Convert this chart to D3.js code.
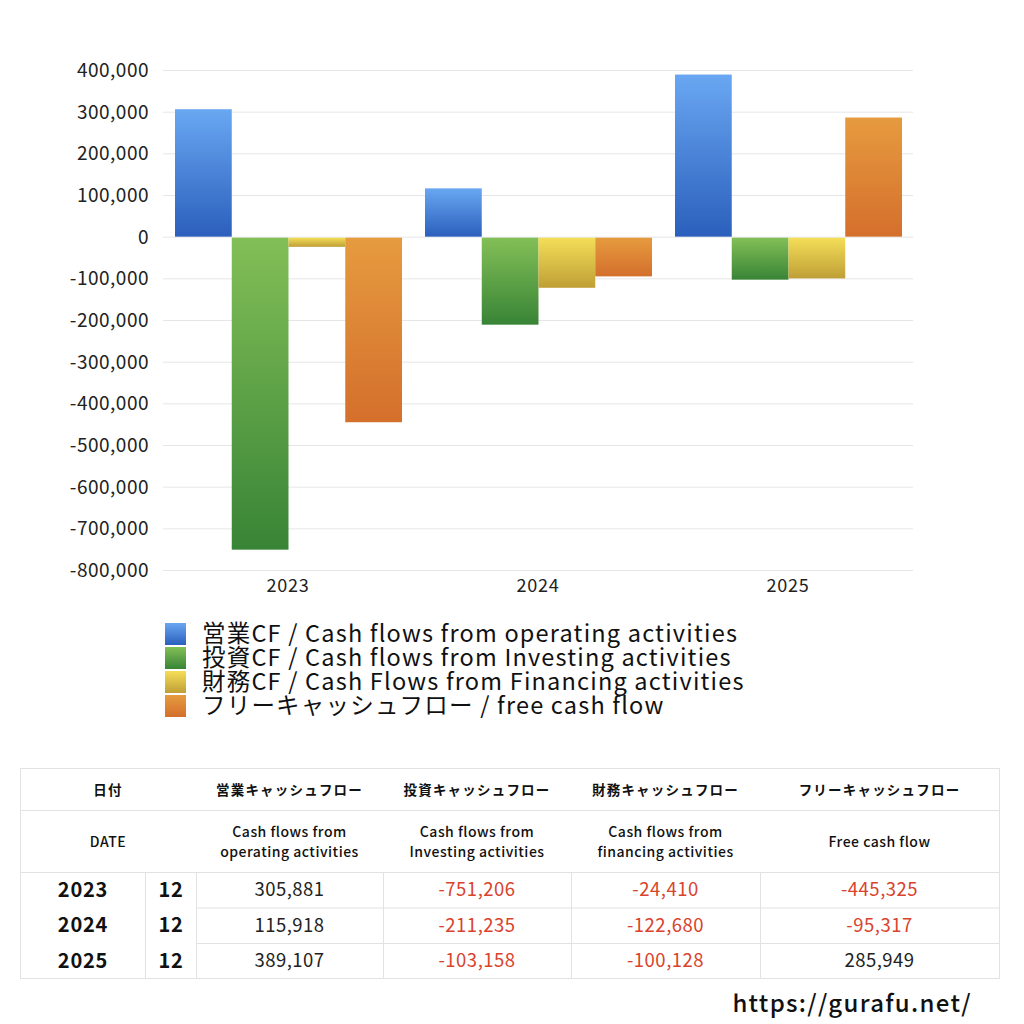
<!DOCTYPE html>
<html><head><meta charset="utf-8">
<script src="https://cdn.jsdelivr.net/npm/d3@7/dist/d3.min.js"></script>
<style>
html,body{margin:0;padding:0;background:#fff;}
svg{display:block;}
</style></head>
<body>
<svg id="chart" width="1024" height="1024"></svg>
<script>
const years = ["2023", "2024", "2025"];
const months = ["12", "12", "12"];
const seriesKeys = ["op", "inv", "fin", "free"];
const legendLabels = [
  "営業CF / Cash flows from operating activities",
  "投資CF / Cash flows from Investing activities",
  "財務CF / Cash Flows from Financing activities",
  "フリーキャッシュフロー / free cash flow"
];
const operating = [305881, 115918, 389107];
const investing = [-751206, -211235, -103158];
const financing = [-24410, -122680, -100128];
const freeCF = [-445325, -95317, 285949];
const yTicks = [400000, 300000, 200000, 100000, 0, -100000, -200000, -300000, -400000, -500000, -600000, -700000, -800000];
const tableHead1 = ["日付", "営業キャッシュフロー", "投資キャッシュフロー", "財務キャッシュフロー", "フリーキャッシュフロー"];
const tableHead2 = ["DATE", "Cash flows from\noperating activities", "Cash flows from\nInvesting activities", "Cash flows from\nfinancing activities", "Free cash flow"];
const colorStops = [["#69a7f2", "#2b5fbc"], ["#83bf57", "#388436"], ["#f4de58", "#bf9f36"], ["#e69b3f", "#d46f2c"]];

const seriesValues = [operating, investing, financing, freeCF];
const FONT = "'Noto Sans CJK JP', 'Noto Sans', sans-serif";
const svg = d3.select("#chart");
const defs = svg.append("defs");
colorStops.forEach((c, i) => {
  const g = defs.append("linearGradient").attr("id", "g" + i)
    .attr("x1", 0).attr("y1", 0).attr("x2", 0).attr("y2", 1);
  g.append("stop").attr("offset", "0%").attr("stop-color", c[0]);
  g.append("stop").attr("offset", "100%").attr("stop-color", c[1]);
});

const x0 = d3.scaleBand().domain(years).range([163, 913]).paddingInner(0).paddingOuter(0);
const x1 = d3.scaleBand().domain(seriesKeys).range([12, x0.bandwidth() - 11]).padding(0);
const y = d3.scaleLinear().domain([-800000, 400000]).range([570, 70]);

// gridlines
svg.append("g").selectAll("line").data(yTicks).join("line")
  .attr("x1", 163).attr("x2", 913)
  .attr("y1", d => y(d) + 0.5).attr("y2", d => y(d) + 0.5)
  .attr("stroke", "#e6e6e6").attr("stroke-width", 1);

// y axis
const yAxis = d3.axisLeft(y).tickValues(yTicks).tickSize(0).tickPadding(0)
  .tickFormat(d => d3.format(",")(d).replace("−", "-"));
const ga = svg.append("g").attr("transform", "translate(149,0)").call(yAxis);
ga.select(".domain").remove();
ga.selectAll("text").attr("font-family", FONT).attr("font-size", 19).attr("letter-spacing", 0.5)
  .attr("fill", "#222").attr("dy", "0.35em");

// x axis
const xAxis = d3.axisBottom(x0).tickSize(0).tickPadding(0);
const gx = svg.append("g").attr("transform", "translate(0,586)").call(xAxis);
gx.select(".domain").remove();
gx.selectAll("text").attr("font-family", FONT).attr("font-size", 18).attr("letter-spacing", 0.8)
  .attr("fill", "#222").attr("dy", "0.35em");

// bars
const groups = svg.append("g").selectAll("g").data(years).join("g")
  .attr("transform", d => `translate(${x0(d)},0)`);
groups.selectAll("rect").data((d, yi) => seriesKeys.map((k, si) => ({k, si, v: seriesValues[si][yi]})))
  .join("rect")
  .attr("x", d => x1(d.k)).attr("width", x1.bandwidth())
  .attr("y", d => d.v >= 0 ? y(d.v) : y(0) + 1)
  .attr("height", d => d.v >= 0 ? y(0) - y(d.v) : y(d.v) - y(0) - 1)
  .attr("fill", d => `url(#g${d.si})`);

// legend
const lg = svg.append("g").selectAll("g").data(legendLabels).join("g")
  .attr("transform", (d, i) => `translate(165,${623 + i * 24})`);
lg.append("rect").attr("width", 21).attr("height", 22).attr("fill", (d, i) => `url(#g${i})`);
lg.append("text").attr("x", 37).attr("y", 11).attr("dy", "0.36em")
  .attr("font-family", FONT).attr("font-size", 23.5).attr("letter-spacing", 1.2)
  .attr("fill", "#111").text(d => d);

// table
const colX = [20, 145, 196, 383, 571, 760, 999];
const rowY = [768, 810, 872, 907.5, 943, 978];
const tb = svg.append("g");
const border = "#e2e2e2";
tb.append("rect").attr("x", colX[0] + 0.5).attr("y", rowY[0] + 0.5)
  .attr("width", colX[6] - colX[0]).attr("height", rowY[5] - rowY[0])
  .attr("fill", "none").attr("stroke", border);
[rowY[1], rowY[2]].forEach(yy => tb.append("line").attr("x1", colX[0]).attr("x2", colX[6])
  .attr("y1", yy + 0.5).attr("y2", yy + 0.5).attr("stroke", border));
[rowY[3], rowY[4]].forEach(yy => tb.append("line").attr("x1", colX[2]).attr("x2", colX[6])
  .attr("y1", yy + 0.5).attr("y2", yy + 0.5).attr("stroke", border));
colX.slice(1, 6).forEach(xx => tb.append("line").attr("x1", xx + 0.5).attr("x2", xx + 0.5)
  .attr("y1", rowY[2]).attr("y2", rowY[5]).attr("stroke", border));

const headCenters = [(colX[0] + colX[2]) / 2, (colX[2] + colX[3]) / 2, (colX[3] + colX[4]) / 2, (colX[4] + colX[5]) / 2, (colX[5] + colX[6]) / 2];
tb.selectAll("text.h1").data(tableHead1).join("text").attr("class", "h1")
  .attr("x", (d, i) => headCenters[i]).attr("y", 790).attr("dy", "0.35em")
  .attr("text-anchor", "middle").attr("font-family", FONT).attr("font-weight", "bold")
  .attr("font-size", 13.5).attr("letter-spacing", 1.2).attr("fill", "#111").text(d => d);
tableHead2.forEach((t, i) => {
  const lines = t.split("\n");
  const cy = 842;
  lines.forEach((ln, li) => {
    tb.append("text").attr("x", headCenters[i]).attr("y", cy + (li - (lines.length - 1) / 2) * 20)
      .attr("dy", "0.35em").attr("text-anchor", "middle").attr("font-family", FONT)
      .attr("font-weight", 500).attr("font-size", 14).attr("letter-spacing", 0.5)
      .attr("fill", "#111").text(ln);
  });
});
const fmt = d3.format(",");
years.forEach((yr, r) => {
  const cy = (rowY[r + 2] + rowY[r + 3]) / 2;
  tb.append("text").attr("x", 83).attr("y", cy).attr("dy", "0.35em").attr("text-anchor", "middle")
    .attr("font-family", FONT).attr("font-weight", "bold").attr("font-size", 20).attr("letter-spacing", 0.8)
    .attr("fill", "#111").text(yr);
  tb.append("text").attr("x", 171).attr("y", cy).attr("dy", "0.35em").attr("text-anchor", "middle")
    .attr("font-family", FONT).attr("font-weight", "bold").attr("font-size", 20).attr("letter-spacing", 0.8)
    .attr("fill", "#111").text(months[r]);
  seriesValues.forEach((arr, si) => {
    const v = arr[r];
    tb.append("text").attr("x", headCenters[si + 1]).attr("y", cy).attr("dy", "0.35em").attr("text-anchor", "middle")
      .attr("font-family", FONT).attr("font-size", 18.5).attr("letter-spacing", 0.5)
      .attr("fill", v < 0 ? "#d9432c" : "#222")
      .text(fmt(v).replace("−", "-"));
  });
});

// watermark
svg.append("text").attr("x", 972).attr("y", 1004).attr("dy", "0.35em").attr("text-anchor", "end")
  .attr("font-family", FONT).attr("font-weight", 500).attr("font-size", 24).attr("letter-spacing", 1.3)
  .attr("fill", "#111").text("https://gurafu.net/");
</script>
</body></html>
